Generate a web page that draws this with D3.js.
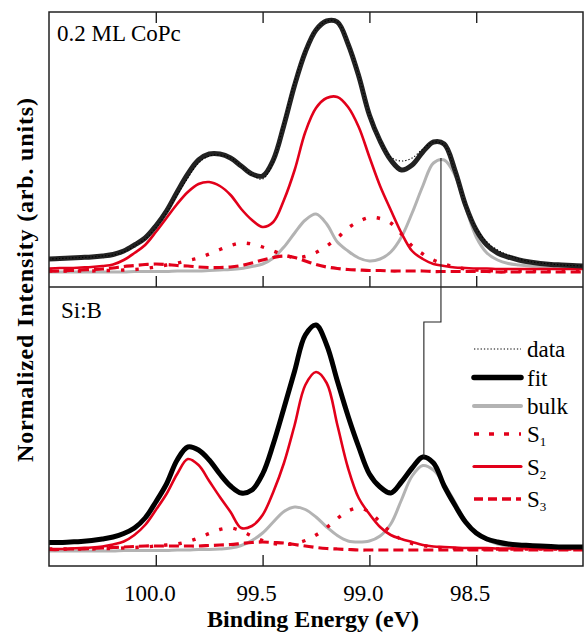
<!DOCTYPE html>
<html>
<head>
<meta charset="utf-8">
<script src="https://cdn.jsdelivr.net/npm/d3@7"></script>
</head>
<body style="margin:0">
<svg id="chart" width="585" height="635"></svg>
<script>
// ---------------- data ----------------
const energy = [100.50,100.45,100.40,100.35,100.30,100.25,100.20,100.15,100.10,100.05,
  100.00,99.95,99.90,99.85,99.80,99.75,99.70,99.65,99.60,99.55,
  99.50,99.45,99.40,99.35,99.30,99.25,99.20,99.15,99.10,99.05,
  99.00,98.95,98.90,98.85,98.80,98.75,98.70,98.65,98.60,98.55,
  98.50,98.45,98.40,98.35,98.30,98.25,98.20,98.15,98.10,98.05,98.00];

const xTicks = [100.0, 99.5, 99.0, 98.5];

// panel 1: 0.2 ML CoPc
const topData = [28,28.5,29,29.5,30,31,32,35,41,48,59,74,92,109,124,131,132,129,121,112,108,125,165,205,236,257,266,265,244,212,173,147,130,126,129,138,145,142,117,83,59,45,37,32,28,25.5,24,23,22,21.5,21];
const topFit  = [28,28.5,29,29.5,30,31,32.5,36,42,49,61,76,95,113,127,133,133,129,121,113,111,127,162,202,235,257,266,265,243,211,172,146,127,117,122,135,145,143,117,82,57,42,34,30,27,25,23.5,22.5,22,21.5,21];
const topBulk = [15,15,15,15,15,15,15,15,15.5,15.5,15.5,15.5,16,16,16,16.5,17,17.5,18.5,20.5,23,29,40,54,67,73,63,45,36,29,26,28,35,50,74,101,124,127,112,80,50,34,27,23.5,22,21,20.5,20,20,20,20];
const topS1   = [16,16,16,16,16,16.5,16.5,17,17.5,18.5,20,22,24,26.5,29,33,37.5,41.5,44,43,40,36,32,29.5,30.5,34.5,41,49,59,65.5,69.5,68.5,64,53,41,33,27,23,20,18,17,16.5,16,16,16,16,16,16,16,16,16];
const topS2   = [18.5,19,19,19.5,20,21,22.5,27,34,42,55,69,83,95,103,105,101,92,78,67,60,65,87,117,155,179,189,190,180,160,130,101,77,54,36,28,23,21,19.5,19,18.5,18.5,18,18,18,18,18,18,18,18,18];
const topS3   = [16,16,16.5,17,17.5,18,19,20.5,21.5,22.5,23,22.5,21.5,21,20,19.5,19.5,20,21.5,24,27,29.5,31,29.5,26,22.5,20,18.5,17.5,17,16.5,16.5,16,16,16,16,15.5,15.5,15.5,15.5,15.5,15.5,15,15,15,15,15,15,15,15,15];

// panel 2: Si:B
const botData = [23.5,23.5,24,24.5,25.5,27,29,32.5,38,48,64,82,106,119,117,106,92,80,74,78,95,125,161,197,232,241,221,185,150,119,93,80,75,85,99,109,104,81,62,45,34,27,24,22,21,20.5,20,19.5,19,19,19];
const botFit  = [23.5,23.5,24,24.5,25.5,27,29,32.5,38,48,64,82,106,119,116,106,92,80,73,76,92,122,158,195,231,241,221,185,150,119,92,79,73,84,98,109,103,80,61,44,33,27,24,22,21,20.5,20,19.5,19,19,19];
const botBulk = [15,15,15,15,15,15,15,15.5,15.5,15.5,15.5,15.5,16,16,16.5,16.5,17,18,20.5,25.5,33,44,54.5,59,56.5,49,39,30.5,25,24,25,30,42,66,90,100.5,96,82,64,45,33,26,22,20,19,18.5,18.5,18,18,18,18];
const botS1   = [17,17,17,17,17,17.5,17.5,18,18.5,19,20,21,22,24.5,28,32.5,36.5,38,35,30,25.5,22.5,21.5,22.5,25.5,31,38.5,47.5,55,58,54,44,34,26.5,22.5,20.5,19,18,17.5,17,17,17,17,17,17,17,17,17,17,17,17];
const botS2   = [17,17,17.5,18,18.5,19.5,21.5,24.5,31,41,56,72,92,107,101,85,69,54,38,40,51,74,103,141,181,194,183,141,98,68,52,39,31,27,24,21,19.5,19,18.5,18,18,18,17.5,17.5,17.5,17.5,17,17,17,17,17];
const botS3   = [16.5,16.5,17,17,17.5,18,18.5,19,19.5,20,20,20,20,20,20,20.5,21,21.5,22.5,23.5,24,23.5,23,21.5,20,18.5,17.5,17,16.5,16,16,16,16,16,16,16,16,16,16,16,16,16,16,16,16,16,16,16,16,16,16];

const panelLabels = ["0.2 ML CoPc", "Si:B"];
const legendNames = ["data", "fit", "bulk", "S1", "S2", "S3"];

// bulk-peak shift marker (energy, intensity in each panel's units)
const shiftE = [98.665, 98.745];
const shiftV = { topStart: 129, step: 244, botEnd: 109 };

// ---------------- layout ----------------
const L = 49, R = 583, T = 12, M = 287, B = 566;
const RED = "#e2001a", GRAY = "#b3b3b3";

const svg = d3.select("#chart");
svg.append("rect").attr("width", 585).attr("height", 635).attr("fill", "#fff");

function txt(parent, size, bold) {
  const t = parent.append("text").attr("font-size", size)
    .style("font-family", "'Times New Roman'");
  if (bold) t.attr("font-weight", "bold");
  return t;
}

const x = d3.scaleLinear().domain([100.5, 98.0]).range([L, R]);
const yTop = d3.scaleLinear().domain([0, 275]).range([M, T]);
const yBot = d3.scaleLinear().domain([0, 279]).range([B, M]);

const styles = {
  data: { stroke: "#000", width: 1.1, dash: "1.3,2" },
  fitTop: { stroke: "#222", width: 5, dash: null },
  fitBot: { stroke: "#000", width: 5, dash: null },
  bulk: { stroke: GRAY, width: 3, dash: null },
  S1: { stroke: RED, width: 3.4, dash: "3.4,11" },
  S2: { stroke: RED, width: 2.6, dash: null },
  S3: { stroke: RED, width: 3.2, dash: "10,5" }
};

function drawPanel(y, series, clipId, top, bottom) {
  svg.append("clipPath").attr("id", clipId)
    .append("rect").attr("x", L).attr("y", top).attr("width", R - L).attr("height", bottom - top);
  const g = svg.append("g").attr("clip-path", `url(#${clipId})`);
  const line = d3.line().x((d, i) => x(energy[i])).y(d => y(d)).curve(d3.curveCatmullRom.alpha(0.5));
  series.forEach(([vals, st]) => {
    g.append("path").datum(vals)
      .attr("d", line)
      .attr("fill", "none")
      .attr("stroke", st.stroke)
      .attr("stroke-width", st.width)
      .attr("stroke-linejoin", "round")
      .attr("stroke-dasharray", st.dash);
  });
}

drawPanel(yTop, [
  [topBulk, styles.bulk], [topS3, styles.S3], [topS1, styles.S1], [topS2, styles.S2],
  [topFit, styles.fitTop], [topData, styles.data]
], "clipTop", T, M);

drawPanel(yBot, [
  [botBulk, styles.bulk], [botS3, styles.S3], [botS1, styles.S1], [botS2, styles.S2],
  [botFit, styles.fitBot], [botData, styles.data]
], "clipBot", M, B);

// shift marker line
const shiftPts = [
  [x(shiftE[0]), yTop(shiftV.topStart)],
  [x(shiftE[0]), yBot(shiftV.step)],
  [x(shiftE[1]), yBot(shiftV.step)],
  [x(shiftE[1]), yBot(shiftV.botEnd)]
];
svg.append("path").attr("d", d3.line()(shiftPts))
  .attr("fill", "none").attr("stroke", "#222").attr("stroke-width", 1.1);

// inward ticks via axes (labels drawn separately)
function tickAxis(axis, ty) {
  const g = svg.append("g").attr("transform", `translate(0,${ty})`).call(axis);
  g.select(".domain").remove();
  g.selectAll(".tick text").remove();
  g.selectAll(".tick line").attr("stroke", "#222").attr("stroke-width", 1.4);
  return g;
}
tickAxis(d3.axisTop(x).tickValues(xTicks).tickSize(-11), T);
tickAxis(d3.axisBottom(x).tickValues(xTicks).tickSize(-11), M);
tickAxis(d3.axisBottom(x).tickValues(xTicks).tickSize(-11), B);

const fmt = d3.format(".1f");
xTicks.forEach(v => {
  txt(svg, 23, false).attr("x", x(v) - 6).attr("y", 601).attr("text-anchor", "middle").text(fmt(v));
});

// frame
svg.append("rect").attr("x", L).attr("y", T).attr("width", R - L).attr("height", B - T)
  .attr("fill", "none").attr("stroke", "#222").attr("stroke-width", 1.5);
svg.append("line").attr("x1", L).attr("x2", R).attr("y1", M).attr("y2", M)
  .attr("stroke", "#222").attr("stroke-width", 1.5);

// panel labels
txt(svg, 23, false).attr("x", 57).attr("y", 41).text(panelLabels[0]);
txt(svg, 23, false).attr("x", 61).attr("y", 318).text(panelLabels[1]);

// axis titles
txt(svg, 24, true).attr("x", 313).attr("y", 627).attr("text-anchor", "middle").text("Binding Energy (eV)");
txt(svg, 24, true).attr("transform", "translate(33,280) rotate(-90)").attr("text-anchor", "middle")
  .attr("textLength", 364).attr("lengthAdjust", "spacing")
  .text("Normalized Intensity (arb. units)");

// legend
const legendRows = [349, 377.5, 406, 434, 466.5, 499];
const legendStyles = [styles.data, { stroke: "#000", width: 5.5, dash: null }, { stroke: GRAY, width: 4, dash: null },
  { stroke: RED, width: 3.5, dash: "5,10" }, { stroke: RED, width: 3.2, dash: null }, { stroke: RED, width: 3.5, dash: "9,5" }];
legendNames.forEach((name, i) => {
  const yy = legendRows[i];
  const st = legendStyles[i];
  svg.append("line").attr("x1", 474).attr("x2", 521).attr("y1", yy).attr("y2", yy)
    .attr("stroke", st.stroke).attr("stroke-width", st.width)
    .attr("stroke-linecap", st.dash || i === 0 ? "butt" : "round")
    .attr("stroke-dasharray", st.dash);
  const t = txt(svg, 23, false).attr("x", 527).attr("y", yy + 8);
  if (name[0] === "S" && name.length === 2) {
    t.append("tspan").text("S");
    t.append("tspan").attr("dy", 4).attr("font-size", 13).text(name[1]);
  } else {
    t.text(name);
  }
});
</script>
</body>
</html>
